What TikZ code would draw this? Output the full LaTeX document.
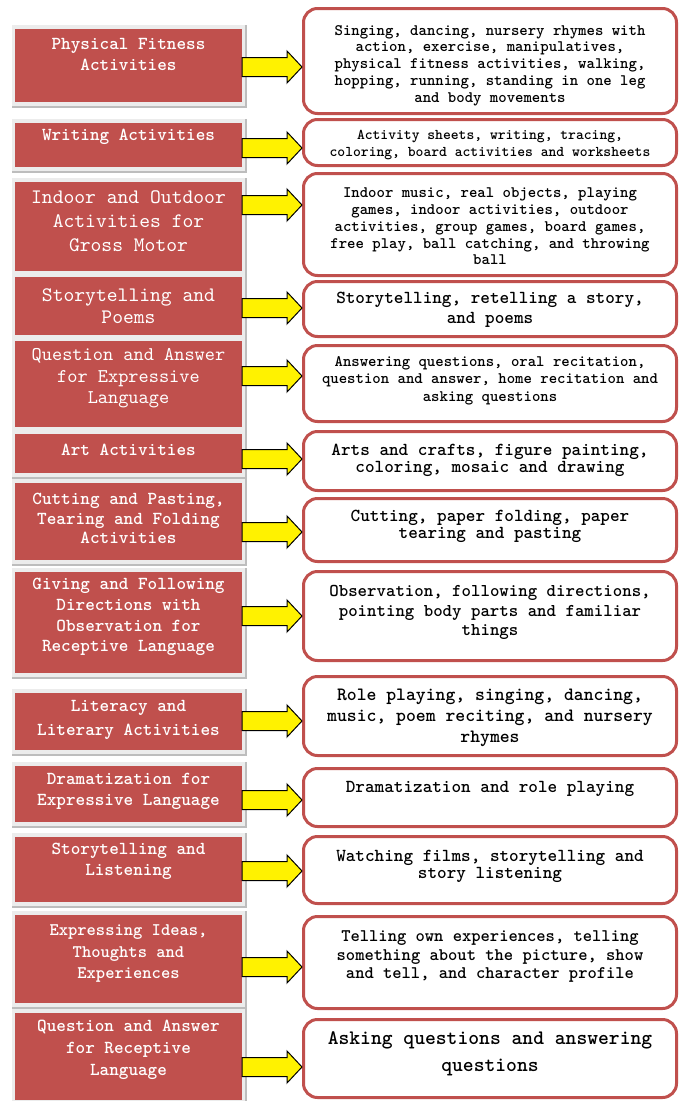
\documentclass[tikz,border=0pt]{standalone}
\usepackage{fontspec}
\usetikzlibrary{calc}

\definecolor{boxred}{HTML}{C0504D}
\definecolor{panelgray}{HTML}{ECECEC}
\definecolor{paneledge}{HTML}{BDBDBD}

% typewriter faces for the labels: plain and heavy
\newfontfamily\plaintt{lmmono10-regular.otf}
\newfontfamily\heavytt{lmmonolt10-bold.otf}

\tikzset{
  catbox/.style={rectangle, fill=boxred, draw=none, inner sep=0pt, minimum width=227pt},
  cattext/.style={text=white, align=center, inner sep=0pt},
  itembox/.style={rectangle, draw=boxred, line width=3pt, rounded corners=14pt,
                  fill=white, minimum width=373pt, inner sep=0pt},
  itemtext/.style={text=black, align=center, inner sep=0pt},
  blockarrow/.style={fill=yellow, draw=black, line width=1pt, line join=miter},
}

% category box on its grey panel: id, top, bottom, text centre, font, text
\newcommand\catrow[6]{%
  \fill[panelgray] (12,#2-4) rectangle (246,#3+5);
  \draw[paneledge, line width=1.2pt] (246,#2-4) -- (246,#3+5) -- (12,#3+5);
  \node[catbox, minimum height={#3-#2}] (L#1) at (128.5,{(#2+#3)/2}) {};
  \node[cattext, font=#5] (LT#1) at (128.5,#4) {#6};
}

% description box and the block arrow from its category:
% id, top, bottom, text centre, font, text, arrow height
\newcommand\itemrow[7]{%
  \node[itembox, minimum height={#3-#2-3}] (R#1) at (490,{(#2+#3)/2}) {};
  \node[itemtext, font=\heavytt#5] (RT#1) at (490,#4) {#6};
  \coordinate (AS#1) at (L#1.east |- 0,#7);
  \coordinate (AE#1) at (R#1.west |- 0,#7);
  \filldraw[blockarrow] ($(AS#1)+(0,9.5)$) -- ($(AE#1)+(-15,9.5)$)
    -- ($(AE#1)+(-15,16)$) -- (AE#1) -- ($(AE#1)+(-15,-16)$)
    -- ($(AE#1)+(-15,-9.5)$) -- ($(AS#1)+(0,-9.5)$) -- cycle;
}

\begin{document}
\begin{tikzpicture}[x=1pt, y=-1pt]
\fill[white] (0,0) rectangle (682,1101);
\useasboundingbox (0,0) rectangle (682,1101);

\catrow{1}{29}{102}{54.5}{\heavytt\fontsize{18.3}{21}\selectfont}{Physical Fitness\\Activities}
\itemrow{1}{7}{115}{65.5}{\fontsize{16}{16.75}\selectfont}{Singing, dancing, nursery rhymes with\\action, exercise, manipulatives,\\physical fitness activities, walking,\\hopping, running, standing in one leg\\and body movements}{67}

\catrow{2}{123}{167}{137}{\heavytt\fontsize{18.3}{21}\selectfont}{Writing Activities}
\itemrow{2}{118}{167}{145.5}{\fontsize{14.9}{17}\selectfont}{Activity sheets, writing, tracing,\\coloring, board activities and worksheets}{148}

\catrow{3}{182}{271}{221}{\plaintt\fontsize{20.6}{24}\selectfont}{Indoor and Outdoor\\Activities for\\Gross Motor}
\itemrow{3}{172}{277}{226.5}{\fontsize{16}{16.75}\selectfont}{Indoor music, real objects, playing\\games, indoor activities, outdoor\\activities, group games, board games,\\free play, ball catching, and throwing\\ball}{205}

\catrow{4}{277}{335}{306}{\plaintt\fontsize{20.6}{22}\selectfont}{Storytelling and\\Poems}
\itemrow{4}{280}{338}{310}{\fontsize{18.3}{20}\selectfont}{Storytelling, retelling a story,\\and poems}{308}

\catrow{5}{341}{427}{378.5}{\plaintt\fontsize{19.4}{21.5}\selectfont}{Question and Answer\\for Expressive\\Language}
\itemrow{5}{344}{423}{380.5}{\fontsize{16}{17.5}\selectfont}{Answering questions, oral recitation,\\question and answer, home recitation and\\asking questions}{376}

\catrow{6}{434}{473}{450}{\heavytt\fontsize{18.3}{21}\selectfont}{Art Activities}
\itemrow{6}{430}{492}{460.5}{\fontsize{18.3}{17}\selectfont}{Arts and crafts, figure painting,\\coloring, mosaic and drawing}{459}

\catrow{7}{483}{560}{518.5}{\heavytt\fontsize{18.3}{19.5}\selectfont}{Cutting and Pasting,\\Tearing and Folding\\Activities}
\itemrow{7}{497}{563}{526.5}{\fontsize{18.3}{17}\selectfont}{Cutting, paper folding, paper\\tearing and pasting}{532}

\catrow{8}{572}{673}{617}{\heavytt\fontsize{18.3}{20.7}\selectfont}{Giving and Following\\Directions with\\Observation for\\Receptive Language}
\itemrow{8}{570}{662}{612.5}{\fontsize{18}{19.5}\selectfont}{Observation, following directions,\\pointing body parts and familiar\\things}{616}

\catrow{9}{693}{750}{720}{\heavytt\fontsize{18.3}{24}\selectfont}{Literacy and\\Literary Activities}
\itemrow{9}{675}{757}{718}{\fontsize{18.8}{21}\selectfont}{Role playing, singing, dancing,\\music, poem reciting, and nursery\\rhymes}{721}

\catrow{10}{766}{822}{791.5}{\heavytt\fontsize{18.3}{21}\selectfont}{Dramatization for\\Expressive Language}
\itemrow{10}{767}{828}{789}{\fontsize{18.3}{20}\selectfont}{Dramatization and role playing}{800}

\catrow{11}{837}{902}{861.5}{\heavytt\fontsize{18.3}{21}\selectfont}{Storytelling and\\Listening}
\itemrow{11}{835}{905}{866.5}{\fontsize{18.3}{17}\selectfont}{Watching films, storytelling and\\story listening}{871}

\catrow{12}{915}{1003}{953.5}{\heavytt\fontsize{17.7}{21.5}\selectfont}{Expressing Ideas,\\Thoughts and\\Experiences}
\itemrow{12}{915}{1010}{956.5}{\fontsize{17.7}{18.5}\selectfont}{Telling own experiences, telling\\something about the picture, show\\and tell, and character profile}{967}

\catrow{13}{1013}{1100}{1050}{\heavytt\fontsize{18.3}{22}\selectfont}{Question and Answer\\for Receptive\\Language}
\itemrow{13}{1018}{1099}{1053.5}{\fontsize{20.6}{27}\selectfont}{Asking questions and answering\\questions}{1067}
\end{tikzpicture}
\end{document}
